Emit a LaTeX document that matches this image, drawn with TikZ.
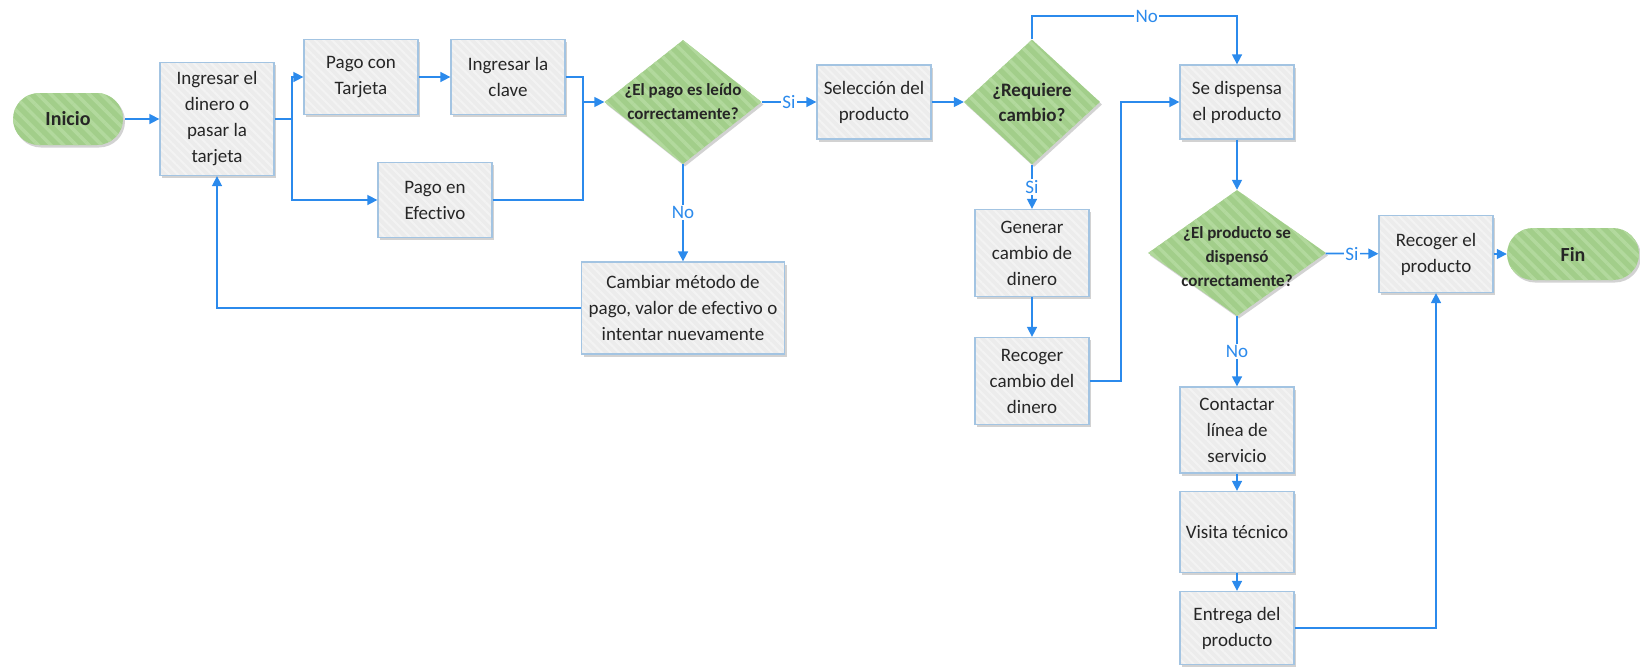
\documentclass[tikz,border=0pt]{standalone}
\usepackage{fontspec}
\setmainfont{Carlito}[Ligatures=CommonOff]
\usetikzlibrary{shapes.geometric,arrows.meta,patterns.meta,shadows}
\definecolor{flowblue}{RGB}{43,138,236}
\definecolor{boxgray}{RGB}{236,236,236}
\definecolor{boxstripe}{RGB}{243,243,243}
\definecolor{boxline}{RGB}{163,196,226}
\definecolor{leaf}{RGB}{162,206,138}
\definecolor{leafstripe}{RGB}{178,217,157}
\definecolor{ink}{RGB}{38,38,38}
\begin{document}
\begin{tikzpicture}[x=1pt,y=-1pt,
  shade/.style={drop shadow={shadow xshift=2pt,shadow yshift=-2.5pt,opacity=.25,fill=black!70}},
  proc/.style={shade, preaction={fill=boxgray},
    pattern={Lines[angle=-45,distance=6pt,line width=2pt]}, pattern color=boxstripe,
    draw=boxline, line width=1.3pt, rectangle, align=center, text=ink,
    font=\fontsize{19}{26}\selectfont, inner sep=2pt, minimum width=114pt},
  term/.style={shade, preaction={fill=leaf},
    pattern={Lines[angle=-45,distance=9pt,line width=3.5pt]}, pattern color=leafstripe,
    rectangle, rounded corners=26pt, text=ink, font=\bfseries\fontsize{20}{24}\selectfont,
    minimum height=52pt},
  decision/.style={shade, preaction={fill=leaf},
    pattern={Lines[angle=-45,distance=9pt,line width=3.5pt]}, pattern color=leafstripe,
    diamond, inner sep=0pt},
  dtext/.style={align=center, text=ink, font=\bfseries\fontsize{17}{24}\selectfont},
  conn/.style={draw=flowblue, line width=1.6pt, -{Triangle[length=10pt,width=10pt]}},
  wire/.style={draw=flowblue, line width=1.6pt},
  lab/.style={fill=white, text=flowblue, font=\fontsize{19}{20}\selectfont, inner sep=1.5pt}
]
\useasboundingbox (0,0) rectangle (1640,667);

% start and first steps
\node[term, minimum width=110pt] (ini) at (68,119) {Inicio};
\node[proc, minimum height=113pt] (ing) at (217,119) {Ingresar el\\dinero o\\pasar la\\tarjeta};
\node[proc, minimum height=75pt] (tar) at (361,77) {Pago con\\Tarjeta};
\node[proc, minimum height=75pt] (cla) at (508,77) {Ingresar la\\clave};
\node[proc, minimum height=75pt] (efe) at (435,200) {Pago en\\Efectivo};

% payment check
\node[decision, minimum width=157pt, minimum height=124pt] (d1) at (683,102) {};
\node[dtext] (d1t) at (683,102) {¿El pago es leído\\correctamente?};
\node[proc, minimum width=203pt, minimum height=92pt] (cam) at (683,308) {Cambiar método de\\pago, valor de efectivo o\\intentar nuevamente};

% product selection and change
\node[proc, minimum height=74pt] (sel) at (874,102) {Selección del\\producto};
\node[decision, minimum width=136pt, minimum height=125pt] (d2) at (1032,102) {};
\node[dtext, font=\bfseries\fontsize{19}{25}\selectfont] (d2t) at (1032,102) {¿Requiere\\cambio?};
\node[proc, minimum height=87pt] (gen) at (1032,253) {Generar\\cambio de\\dinero};
\node[proc, minimum height=87pt] (rec) at (1032,381) {Recoger\\cambio del\\dinero};

% dispensing
\node[proc, minimum height=74pt] (dis) at (1237,102) {Se dispensa\\el producto};
\node[decision, minimum width=178pt, minimum height=126pt] (d3) at (1237,253) {};
\node[dtext] (d3t) at (1237,257) {¿El producto se\\dispensó\\correctamente?};
\node[proc, minimum height=77pt] (rp) at (1436,254) {Recoger el\\producto};
\node[term, minimum width=132pt] (fin) at (1573,254) {Fin};
\node[proc, minimum height=86pt] (con) at (1237,430) {Contactar\\línea de\\servicio};
\node[proc, minimum height=81pt] (vis) at (1237,532) {Visita técnico};
\node[proc, minimum height=73pt] (ent) at (1237,628) {Entrega del\\producto};

% connector bends
\coordinate (sp) at (292,119);
\coordinate (jn) at (583,102);
\coordinate (nr) at (1237,16);
\coordinate (rr) at (1121,102);

% connectors
\draw[conn] (ini) -- (ing);
\draw[wire] (ing.east) -- (sp);
\draw[conn] (sp) |- (tar);
\draw[conn] (sp) |- (efe);
\draw[conn] (tar) -- (cla);
\draw[wire] (cla.east) -| (jn);
\draw[wire] (efe.east) -| (jn);
\draw[conn] (jn) -- (d1);
\draw[conn] (d1) -- node[lab] (s1) {Si} (sel);
\draw[conn] (d1) -- node[lab] (n1) {No} (cam);
\draw[conn] (cam) -| (ing);
\draw[conn] (sel) -- (d2);
\draw[conn] (d2.north) |- node[lab, pos=0.78] (n2) {No} (nr) -- (dis.north);
\draw[conn] (d2) -- node[lab] (s2) {Si} (gen);
\draw[conn] (gen) -- (rec);
\draw[conn] (rec) -| (rr) -- (dis);
\draw[conn] (dis) -- (d3);
\draw[conn] (d3) -- node[lab] (s3) {Si} (rp);
\draw[conn] (rp) -- (fin);
\draw[conn] (d3) -- node[lab] (n3) {No} (con);
\draw[conn] (con) -- (vis);
\draw[conn] (vis) -- (ent);
\draw[conn] (ent) -| (rp);
\end{tikzpicture}
\end{document}
